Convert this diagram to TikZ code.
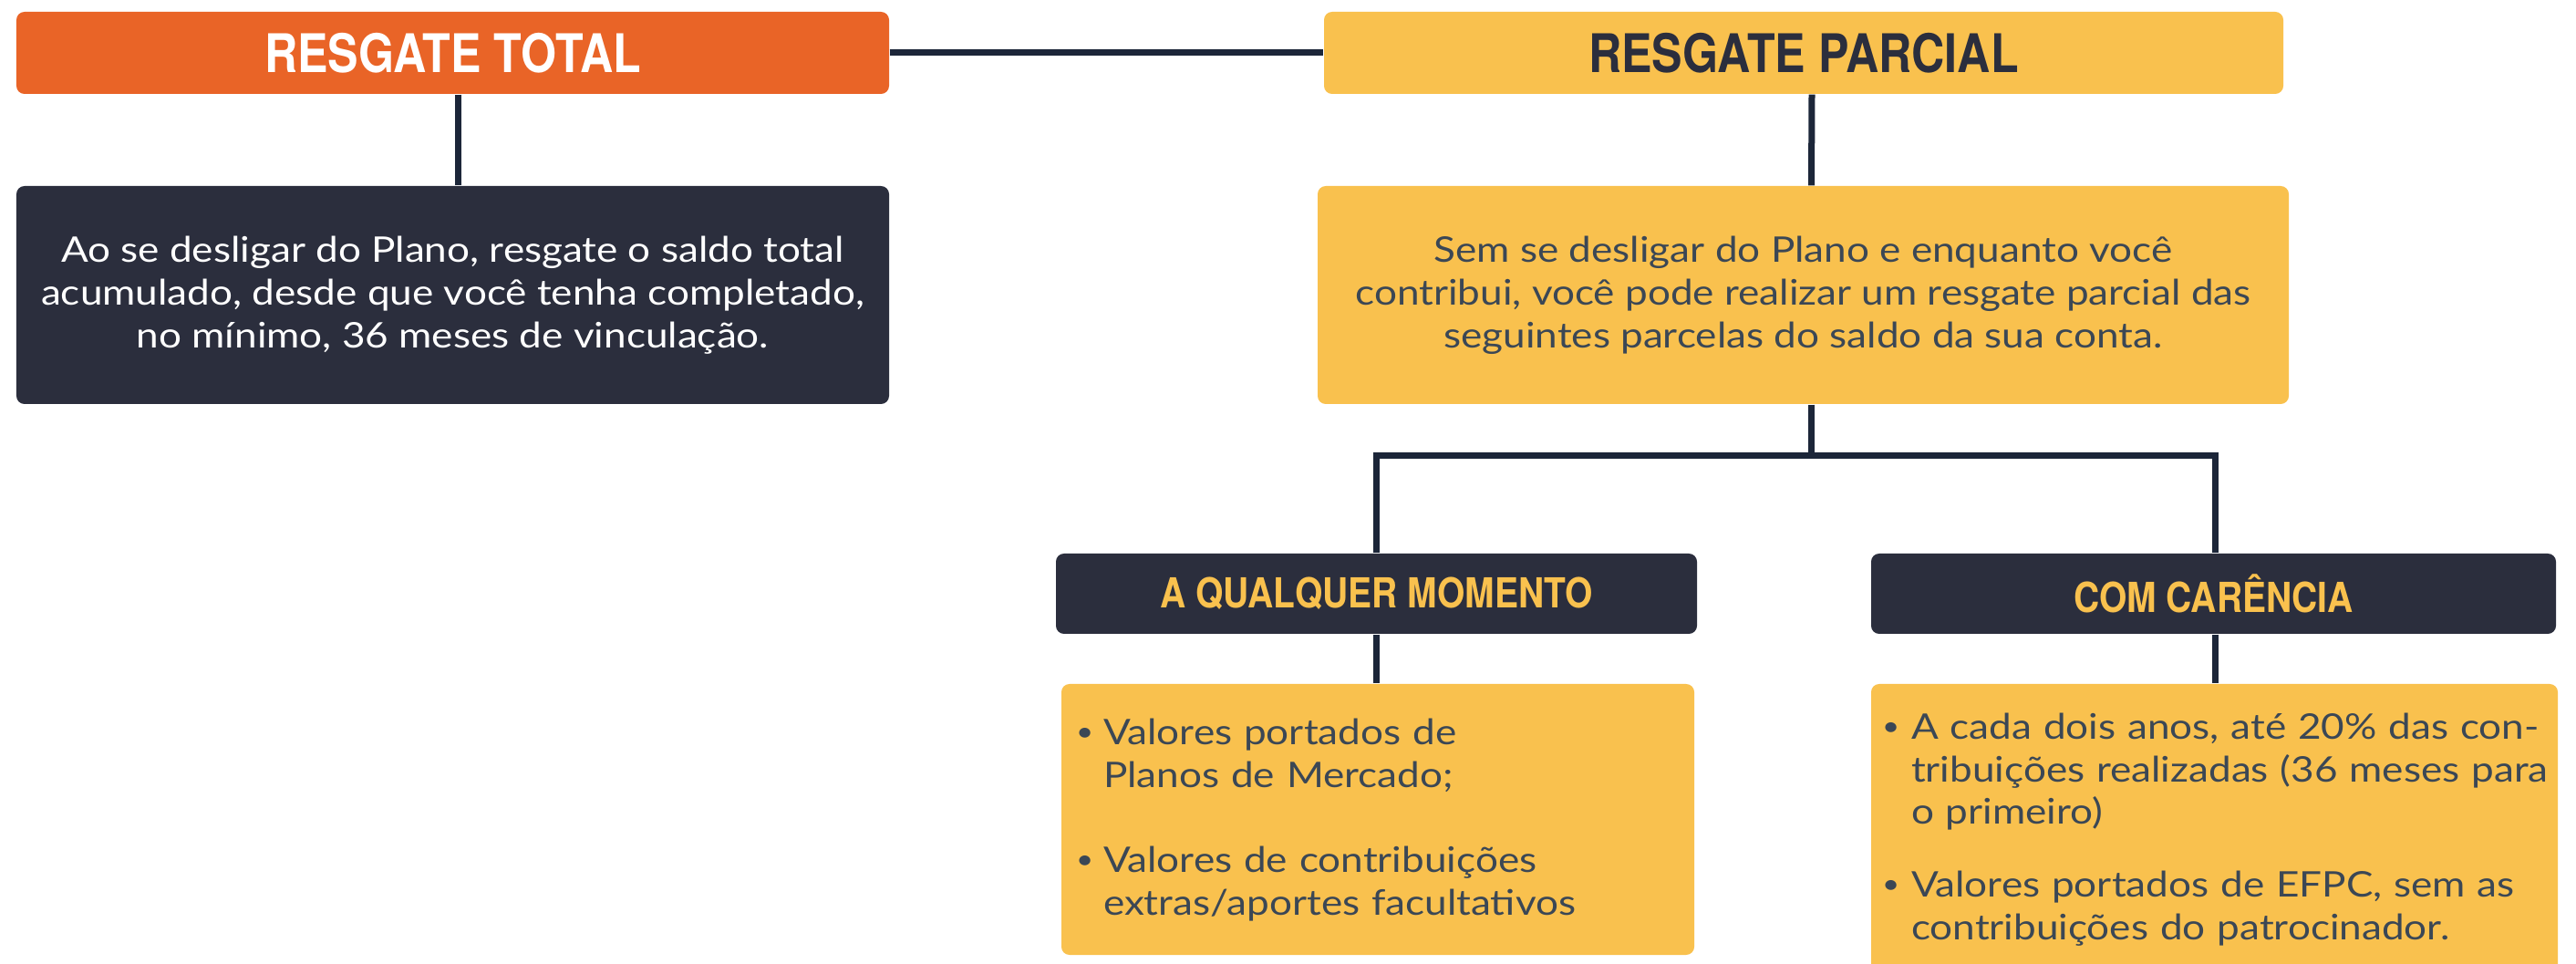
\documentclass[tikz,border=0pt]{standalone}
\usepackage{fontspec}
\usepackage{xcolor}
\usepackage{graphicx}
\setmainfont{Lato}[FakeStretch=1.14]
\newfontfamily\titlefont[FakeStretch=0.86]{TeX Gyre Heros}

\definecolor{laranja}{HTML}{E96427}
\definecolor{amarelo}{HTML}{F9C14E}
\definecolor{escuro}{HTML}{2B2E3D}
\definecolor{linha}{HTML}{1C2639}
\definecolor{cinza}{HTML}{3B4755}

\begin{document}
\begin{tikzpicture}[
    titlebox/.style={rounded corners=2.5pt, inner sep=0pt, minimum height=0.9cm,
        font=\titlefont\bfseries\fontsize{16.6}{18}\selectfont},
    subbox/.style={rounded corners=2.5pt, inner sep=0pt, minimum height=0.88cm,
        fill=escuro, text=amarelo, font=\titlefont\bfseries\fontsize{12.9}{14}\selectfont},
    textbox/.style={rounded corners=2.5pt, inner sep=0pt, minimum height=2.39cm,
        align=center, font=\fontsize{11}{13.4}\selectfont},
    bulletbox/.style={rounded corners=2.5pt, inner sep=0pt, fill=amarelo},
    bullettext/.style={inner sep=0pt, anchor=north west, align=left, text=cinza,
        font=\fontsize{11}{13.3}\selectfont},
    conn/.style={draw=linha, line width=0.07cm}
]
\newcommand*{\bitem}[2][0.30cm]{\noindent\hangindent=#1\hangafter=1
    \makebox[#1][l]{\raisebox{1.2pt}{\scalebox{0.75}{\textbullet}}}#2\par}%

\useasboundingbox (0,0) rectangle (28.25,-10.57);

% top row
\node[titlebox, fill=laranja, text=white, minimum width=9.57cm] (rtotal) at (4.965,-0.58) {RESGATE TOTAL};
\node[titlebox, fill=amarelo, text=escuro, minimum width=10.52cm] (rparcial) at (19.78,-0.58) {RESGATE PARCIAL};

\node[textbox, fill=escuro, text=white, minimum width=9.57cm] (rtotaltxt) at (4.965,-3.235)
    {Ao se desligar do Plano, resgate o saldo total\\
     acumulado, desde que você tenha completado,\\
     no mínimo, 36 meses de vinculação.};
\node[textbox, fill=amarelo, text=cinza, minimum width=10.65cm] (rparcialtxt) at (19.775,-3.235)
    {Sem se desligar do Plano e enquanto você\\
     contribui, você pode realizar um resgate parcial das\\
     seguintes parcelas do saldo da sua conta.};

% parcial: two branches
\node[subbox, minimum width=7.03cm] (aqm) at (15.095,-6.51) {A QUALQUER MOMENTO};
\node[subbox, minimum width=7.51cm] (cc) at (24.275,-6.51) {COM CARÊNCIA};

\node[bulletbox, minimum width=6.94cm, minimum height=2.97cm] (aqmbox) at (15.11,-8.985) {};
\node[bulletbox, minimum width=7.53cm, minimum height=3.30cm] (ccbox) at (24.285,-9.15) {};

\node[bullettext, text width=7.5cm] (aqmtxt) at ([xshift=0.16cm,yshift=-0.38cm]aqmbox.north west)
    {\bitem{Valores portados de\newline Planos de Mercado;}
     \vspace{0.47cm}
     \bitem{Valores de contribuições\newline extras/aportes facultativos}};
\node[bullettext, text width=8.5cm] (cctxt) at ([xshift=0.12cm,yshift=-0.32cm]ccbox.north west)
    {\bitem[0.32cm]{A cada dois anos, até 20\% das con-\newline tribuições realizadas (36 meses para\newline o primeiro)}
     \vspace{0.33cm}
     \bitem[0.32cm]{Valores portados de EFPC, sem as\newline contribuições do patrocinador.}};

% connectors
\draw[conn] (rtotal.east) -- (rparcial.west);
\draw[conn] ([xshift=0.06cm]rtotal.south) -- ([xshift=0.06cm]rtotaltxt.north);
\draw[conn] ([xshift=0.09cm]rparcial.south) -- ([xshift=0.09cm]rparcialtxt.north);

\draw[conn] ([xshift=0.09cm]rparcialtxt.south) -- ++(0,-0.56) coordinate (garfo);
\draw[conn] (aqm.north) |- (garfo) -| ([xshift=0.015cm]cc.north);

\draw[conn] (aqm.south) -- (aqm.south |- aqmbox.north);
\draw[conn] ([xshift=0.015cm]cc.south) -- ([xshift=0.015cm]cc.south |- ccbox.north);

\end{tikzpicture}
\end{document}
